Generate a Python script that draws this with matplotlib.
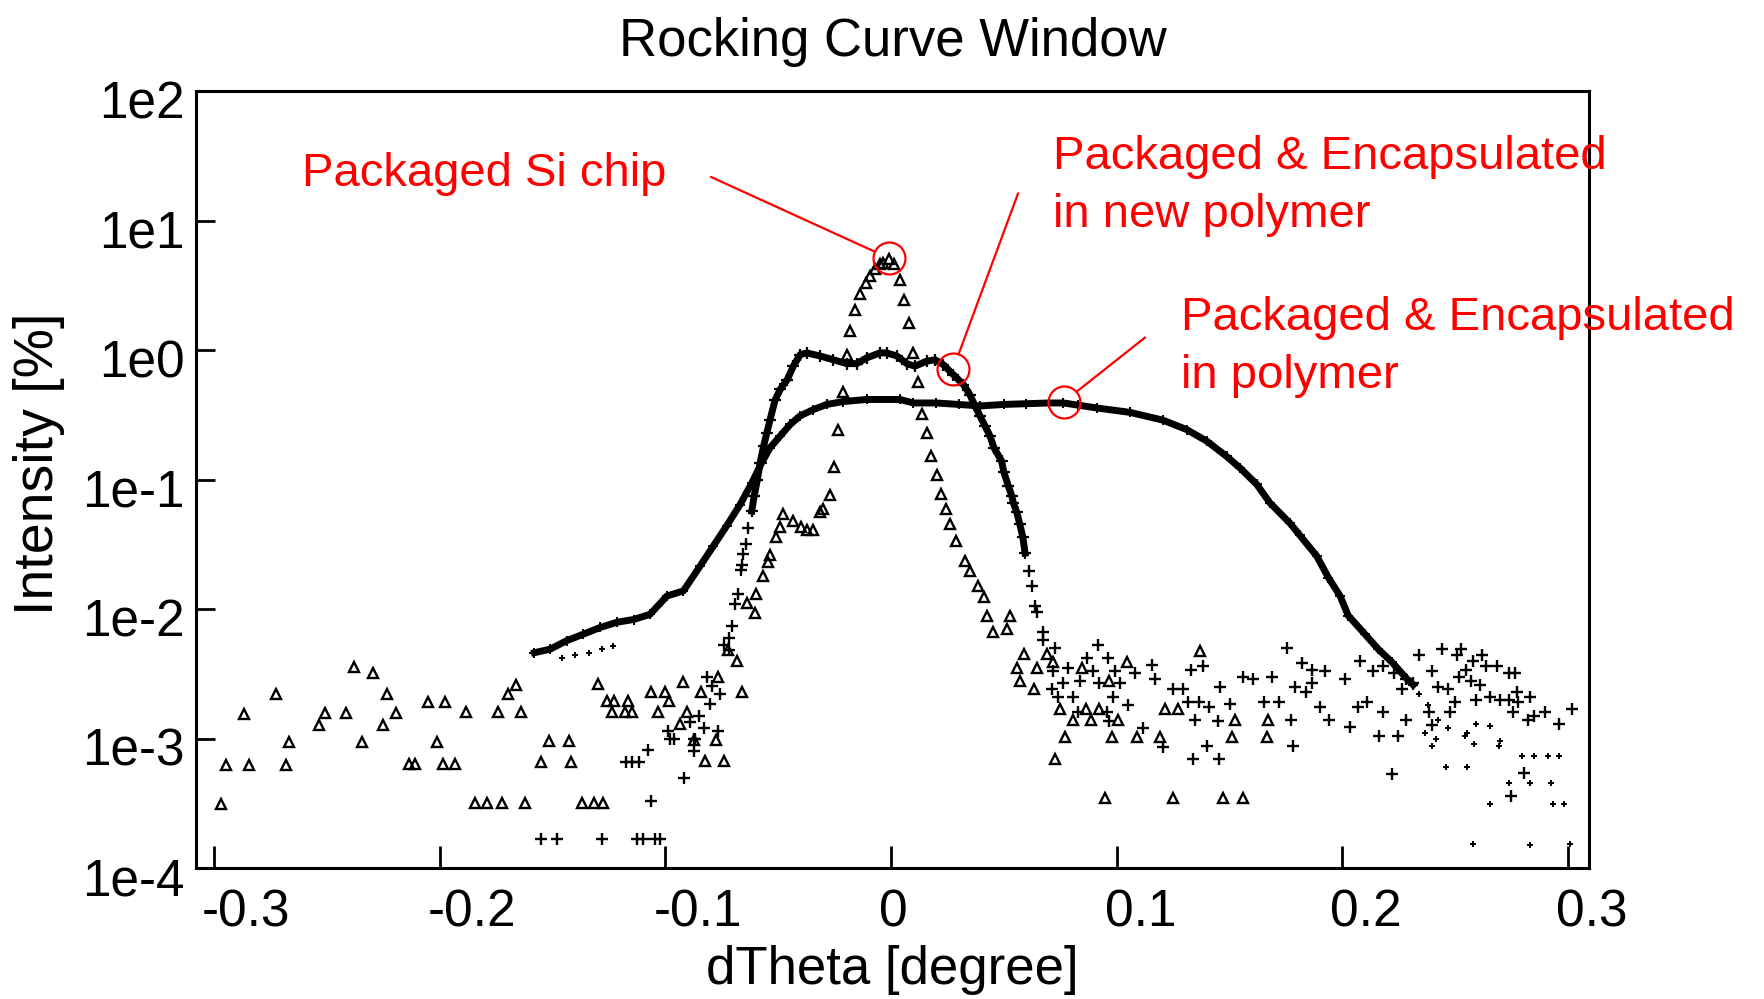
import matplotlib
matplotlib.use('Agg')
import matplotlib.pyplot as plt
from matplotlib.ticker import FixedLocator, FixedFormatter, NullLocator
from matplotlib.transforms import ScaledTranslation

plt.rcParams['font.family'] = ['Liberation Sans', 'DejaVu Sans']
plt.rcParams['axes.unicode_minus'] = False

# --- Packaged Si chip (open triangles) ---
si_x = [-0.297, -0.2948, -0.2867, -0.2846, -0.2726, -0.2683, -0.2667, -0.2534, -0.2509, -0.2414,
        -0.2379, -0.2343, -0.2295, -0.225, -0.2233, -0.2193, -0.2137, -0.2109, -0.2051, -0.2011,
        -0.1987, -0.1976, -0.1932, -0.1884, -0.1844, -0.179, -0.1741, -0.1726, -0.1697, -0.1662,
        -0.164, -0.1623, -0.155, -0.1517, -0.1426, -0.1418, -0.137, -0.1315, -0.1298, -0.1276,
        -0.1259, -0.1236, -0.1227, -0.118, -0.1165, -0.1148, -0.1064, -0.1032, -0.1001, -0.0985,
        -0.0935, -0.0921, -0.0903, -0.0873, -0.0842, -0.0824, -0.0776, -0.0766, -0.0741, -0.0722,
        -0.0683, -0.066, -0.064, -0.0603, -0.060, -0.0568, -0.0545, -0.0536, -0.051, -0.049,
        -0.048, -0.0434, -0.040, -0.0373, -0.0345, -0.0315, -0.030, -0.027, -0.0253, -0.0235,
        -0.0214, -0.0193, -0.018, -0.016, -0.0137, -0.0112, -0.0093, -0.007, -0.005, -0.0035,
        -0.001, 0.0015, 0.004, 0.0058, 0.0081, 0.0099, 0.0121, 0.0136, 0.0158, 0.0177,
        0.0202, 0.022, 0.0244, 0.026, 0.029, 0.0328, 0.035, 0.0387, 0.041, 0.0427,
        0.0453, 0.0513, 0.0527, 0.0557, 0.057, 0.059, 0.0634, 0.0647, 0.069, 0.0718,
        0.0727, 0.0749, 0.077, 0.0806, 0.0845, 0.0864, 0.0885, 0.0923, 0.095, 0.0966,
        0.098, 0.1006, 0.1044, 0.109, 0.119, 0.1214, 0.125, 0.127, 0.137, 0.147,
        0.151, 0.1524, 0.156, 0.1665, 0.167]
si_y = [3.1e-4, 6.2e-4, 1.55e-3, 6.2e-4, 2.2e-3, 6.2e-4, 9.4e-4, 1.27e-3, 1.57e-3, 1.57e-3,
        3.55e-3, 9.4e-4, 3.2e-3, 1.27e-3, 2.2e-3, 1.57e-3, 6.4e-4, 6.4e-4, 1.9e-3, 9.4e-4,
        6.4e-4, 1.9e-3, 6.4e-4, 1.6e-3, 3.2e-4, 3.2e-4, 1.6e-3, 3.2e-4, 2.2e-3, 2.6e-3,
        1.6e-3, 3.2e-4, 6.6e-4, 9.6e-4, 9.6e-4, 6.6e-4, 3.2e-4, 3.2e-4, 2.65e-3, 3.2e-4,
        1.95e-3, 1.6e-3, 1.95e-3, 1.6e-3, 1.95e-3, 1.6e-3, 2.3e-3, 1.6e-3, 2.3e-3, 1.95e-3,
        1.3e-3, 2.75e-3, 1.6e-3, 9.7e-4, 2.3e-3, 6.7e-4, 9.7e-4, 3.0e-3, 6.7e-4, 4.8e-3,
        4.0e-3, 2.3e-3, 0.0112, 0.0094, 0.013, 0.018, 0.023, 0.026, 0.036, 0.043,
        0.054, 0.048, 0.043, 0.041, 0.041, 0.056, 0.059, 0.076, 0.126, 0.243,
        0.47, 0.92, 1.39, 2.05, 2.7, 3.3, 3.7, 4.2, 4.6, 4.7,
        5.0, 4.6, 3.45, 2.45, 1.63, 0.94, 0.57, 0.32, 0.23, 0.151,
        0.108, 0.077, 0.059, 0.045, 0.0335, 0.0234, 0.0197, 0.015, 0.0123, 0.0089,
        0.0066, 0.007, 0.0089, 0.0035, 0.0028, 0.0045, 0.0024, 0.0035, 0.0045, 0.0039,
        6.9e-4, 0.0017, 1.03e-3, 0.0014, 0.0035, 0.0017, 0.0014, 0.0017, 3.5e-4, 0.0028,
        1.03e-3, 0.0014, 0.0039, 1.03e-3, 1.03e-3, 0.0017, 3.5e-4, 0.0017, 0.0047, 3.5e-4,
        1.03e-3, 0.0014, 3.5e-4, 1.03e-3, 0.0014]

# --- Packaged & Encapsulated in new polymer (crosses) ---
# dense part of the curve
new_band_x = [-0.0617, -0.0607, -0.0592, -0.058, -0.0565, -0.055, -0.0536, -0.0514, -0.049, -0.046,
              -0.0433, -0.0403, -0.0373, -0.0315, -0.0255, -0.0196, -0.0152, -0.0108, -0.0049, -0.0019,
              0.0025, 0.007, 0.0106, 0.0158, 0.0195, 0.0232, 0.0276, 0.0321, 0.035, 0.0372,
              0.0394, 0.0416, 0.0439, 0.0456, 0.049, 0.05, 0.052, 0.0535, 0.0542, 0.0557,
              0.0571, 0.0584, 0.0594]
new_band_y = [0.057, 0.074, 0.10, 0.135, 0.18, 0.23, 0.29, 0.41, 0.50, 0.59,
              0.75, 0.92, 0.95, 0.90, 0.84, 0.785, 0.785, 0.87, 0.95, 0.95,
              0.90, 0.785, 0.75, 0.82, 0.84, 0.77, 0.645, 0.54, 0.45, 0.37,
              0.31, 0.26, 0.216, 0.176, 0.139, 0.114, 0.089, 0.075, 0.066, 0.056,
              0.045, 0.036, 0.027]
# sparse points
new_pts_x = [-0.155, -0.148, -0.128, -0.1125, -0.1101, -0.1046, -0.1022, -0.1175, -0.1147, -0.1117,
             -0.1064, -0.1077, -0.099, -0.098, -0.096, -0.0919, -0.089, -0.0873, -0.0873, -0.0868,
             -0.0853, -0.0831, -0.0816, -0.0802, -0.0794, -0.0768, -0.0758, -0.0742, -0.072, -0.0716,
             -0.0705, -0.0691, -0.068, -0.0666, -0.0661, -0.0654, -0.0642, -0.0632,
             0.0613, 0.0624, 0.0638, 0.0649, 0.0675, 0.0675, 0.0727,
             0.0915, 0.0867, 0.0963, 0.0786, 0.0719, 0.0838, 0.0764, 0.0712, 0.0742, 0.0897,
             0.0993, 0.0923, 0.1015, 0.1081, 0.1155, 0.117, 0.1248, 0.1296, 0.1118, 0.1207,
             0.0967, 0.0956, 0.083, 0.0808, 0.0985, 0.1052,
             0.1314, 0.1331, 0.134, 0.1348, 0.1365, 0.1382, 0.1399, 0.1407, 0.145, 0.1453,
             0.1458, 0.1501, 0.156, 0.1602, 0.1653, 0.1687, 0.1721, 0.1755, 0.1772, 0.178,
             0.1789, 0.1823, 0.184, 0.1865, 0.1865, 0.19, 0.1924, 0.1941, 0.201, 0.2035,
             0.207, 0.208, 0.2111, 0.2136, 0.2162, 0.2179, 0.2179, 0.2221, 0.223, 0.2246,
             0.2263, 0.228, 0.228, 0.2314, 0.234, 0.2382, 0.2399, 0.2399, 0.2424, 0.244,
             0.2467, 0.2475, 0.25, 0.2509, 0.2518, 0.2526, 0.2548, 0.2568, 0.2577, 0.2594,
             0.261, 0.2619, 0.2636, 0.2653, 0.2687, 0.27, 0.2738, 0.2738, 0.2755, 0.2764,
             0.2772, 0.278, 0.2823, 0.2831, 0.285, 0.29, 0.2806, 0.2746, 0.296, 0.3018]
new_pts_y = [1.68e-4, 1.68e-4, 1.68e-4, 1.68e-4, 1.68e-4, 1.68e-4, 1.68e-4, 6.6e-4, 6.6e-4, 6.6e-4,
             3.3e-4, 8.2e-4, 1.15e-3, 1.0e-3, 1.0e-3, 5.0e-4, 1.33e-3, 1.0e-3, 8.0e-4, 1.0e-3,
             1.5e-3, 1.2e-3, 3.0e-3, 1.85e-3, 2.55e-3, 1.15e-3, 2.2e-3, 5.3e-3, 4.8e-3, 6.0e-3,
             7.4e-3, 0.0109, 0.013, 0.020, 0.022, 0.0265, 0.032, 0.042,
             0.0197, 0.015, 0.0106, 0.0095, 0.0066, 0.0058, 0.005,
             5.3e-3, 4.2e-3, 4.2e-3, 3.5e-3, 3.3e-3, 2.8e-3, 2.7e-3, 2.4e-3, 2.1e-3, 3.3e-3,
             3.3e-3, 2.7e-3, 2.7e-3, 3.2e-3, 3.7e-3, 2.9e-3, 2.4e-3, 2.4e-3, 1.2e-3, 8.6e-4,
             1.36e-3, 1.6e-3, 1.6e-3, 2.1e-3, 2.1e-3, 1.8e-3,
             1.9e-3, 3.4e-3, 7e-4, 1.4e-3, 1.9e-3, 3.6e-3, 8.8e-4, 1.74e-3, 1.37e-3, 7e-4,
             2.5e-3, 1.85e-3, 3.0e-3, 2.9e-3, 1.9e-3, 3.0e-3, 1.9e-3, 5.0e-3, 1.4e-3, 8.8e-4,
             2.5e-3, 3.8e-3, 2.3e-3, 3.4e-3, 2.7e-3, 1.74e-3, 3.3e-3, 1.4e-3, 2.9e-3, 1.22e-3,
             1.74e-3, 4.0e-3, 1.9e-3, 3.3e-3, 1.05e-3, 3.6e-3, 1.6e-3, 5.3e-4, 3.2e-3, 1.05e-3,
             2.4e-3, 2.9e-3, 1.4e-3, 2.7e-3, 4.4e-3, 1.6e-3, 3.3e-3, 1.27e-3, 2.5e-3, 4.9e-3,
             2.4e-3, 1.6e-3, 1.9e-3, 4.4e-3, 3.0e-3, 4.9e-3, 3.4e-3, 2.8e-3, 4.0e-3, 2.0e-3,
             2.6e-3, 4.4e-3, 3.6e-3, 2.1e-3, 3.6e-3, 2.0e-3, 3.2e-3, 2.0e-3, 1.6e-3, 3.2e-3,
             2.3e-3, 1.9e-3, 1.4e-3, 2.1e-3, 1.5e-3, 1.6e-3, 5.4e-4, 3.6e-4, 1.3e-3, 1.7e-3]

# --- Packaged & Encapsulated in polymer (small marks) ---
poly_band_x = [-0.158, -0.151, -0.1437, -0.1363, -0.1289, -0.1215, -0.1141, -0.1068, -0.0993, -0.092,
               -0.0846, -0.0787, -0.0728, -0.0669, -0.0617, -0.0573, -0.0536, -0.0492, -0.0447, -0.0403,
               -0.0344, -0.0285, -0.0211, -0.0108, 0.004, 0.0099, 0.02, 0.03, 0.0394, 0.05,
               0.06, 0.07, 0.0764, 0.083, 0.0911, 0.1059, 0.1206, 0.131, 0.1399, 0.1487,
               0.1546, 0.162, 0.1679, 0.1768, 0.1812, 0.1886, 0.1938, 0.199, 0.2026, 0.21,
               0.2159, 0.2219, 0.2285, 0.2314]
poly_band_y = [4.6e-3, 4.9e-3, 5.7e-3, 6.4e-3, 7.2e-3, 7.9e-3, 8.3e-3, 9.1e-3, 0.0126, 0.0138,
               0.0215, 0.0307, 0.044, 0.064, 0.094, 0.135, 0.176, 0.216, 0.266, 0.31,
               0.347, 0.38, 0.40, 0.415, 0.415, 0.39, 0.39, 0.38, 0.37, 0.38,
               0.385, 0.39, 0.39, 0.375, 0.357, 0.33, 0.287, 0.243, 0.198, 0.151,
               0.123, 0.092, 0.066, 0.046, 0.037, 0.0257, 0.0175, 0.0126, 0.0089, 0.0064,
               0.0049, 0.0039, 0.0029, 0.0026]
poly_pts_x = [-0.146, -0.14, -0.134, -0.128, -0.123, 0.234, 0.238, 0.2365, 0.2416, 0.2399,
              0.2543, 0.2653, 0.2695, 0.2458, 0.2551, 0.2585, 0.27, 0.2551, 0.2594, 0.2797,
              0.285, 0.291, 0.296, 0.2738, 0.2831, 0.2924, 0.2653, 0.2932, 0.2984, 0.2577,
              0.2831, 0.3009, 0.2424, 0.2467]
poly_pts_y = [4.2e-3, 4.4e-3, 4.6e-3, 4.9e-3, 5.2e-3, 2.2e-3, 1.8e-3, 1.1e-3, 1.0e-3, 8.8e-4,
              1.05e-3, 1.25e-3, 8.8e-4, 6e-4, 6e-4, 9e-4, 9.5e-4, 1.1e-3, 1.3e-3, 7.3e-4,
              7.3e-4, 7.3e-4, 7.3e-4, 4.5e-4, 4.5e-4, 4.5e-4, 3.1e-4, 3.1e-4, 3.1e-4, 1.54e-4,
              1.5e-4, 1.54e-4, 1.4e-3, 1.2e-3]

# ticks
x_ticks = [-0.3, -0.2, -0.1, 0, 0.1, 0.2, 0.3]
x_tick_labels = ['-0.3', '-0.2', '-0.1', '0', '0.1', '0.2', '0.3']
y_ticks = [1e-4, 1e-3, 1e-2, 1e-1, 1e0, 1e1, 1e2]
y_tick_labels = ['1e-4', '1e-3', '1e-2', '1e-1', '1e0', '1e1', '1e2']

# red notes: text, text position, line start, circled point
note_texts = ['Packaged Si chip', 'Packaged & Encapsulated', 'in new polymer',
              'Packaged & Encapsulated', 'in polymer']
note_text_x = [-0.2612, 0.0718, 0.0718, 0.1285, 0.1285]
note_text_y = [18.6, 25.0, 8.9, 1.43, 0.51]
line_start_x = [-0.0798, 0.0563, 0.1126]
line_start_y = [21.7, 16.2, 1.25]
circle_x = [-0.001, 0.0275, 0.0767]
circle_y = [5.13, 0.713, 0.40]

fig = plt.figure(figsize=(17.64, 9.99), dpi=100)
ax = fig.add_axes([0.1111, 0.1311, 0.7897, 0.7778])
ax.set_yscale('log')

ax.plot(si_x, si_y, ls='none', marker='^', ms=7, mfc='none', mec='black', mew=1.7)
ax.plot(new_band_x, new_band_y, color='black', lw=5, marker='+', ms=8, mew=1.6)
ax.plot(new_pts_x, new_pts_y, ls='none', marker='+', ms=8, mew=1.7, color='black')
ax.plot(poly_band_x, poly_band_y, color='black', lw=5, marker='+', ms=7, mew=1.4)
ax.plot(poly_pts_x, poly_pts_y, ls='none', marker='+', ms=5, mew=1.4, color='black')

ax.set_xlim(-0.308, 0.3093)
ax.set_ylim(1e-4, 1e2)

ax.xaxis.set_major_locator(FixedLocator(x_ticks))
ax.xaxis.set_major_formatter(FixedFormatter(x_tick_labels))
ax.yaxis.set_major_locator(FixedLocator(y_ticks))
ax.yaxis.set_major_formatter(FixedFormatter(y_tick_labels))
ax.yaxis.set_minor_locator(NullLocator())
ax.tick_params(axis='x', direction='in', length=16, width=2, labelsize=37, pad=15)
ax.tick_params(axis='y', direction='in', length=14, width=2, labelsize=37, pad=8)
for lab in ax.get_xticklabels():
    lab.set_horizontalalignment('left')
    lab.set_transform(lab.get_transform() + ScaledTranslation(-0.12, 0, fig.dpi_scale_trans))
for lab in ax.get_yticklabels():
    lab.set_transform(lab.get_transform() + ScaledTranslation(0, -0.08, fig.dpi_scale_trans))
for sp in ax.spines.values():
    sp.set_linewidth(2.2)

ax.set_title('Rocking Curve Window', fontsize=38, pad=25)
ax.set_xlabel('dTheta [degree]', fontsize=38)
ax.set_ylabel('Intensity [%]', fontsize=40)
ax.xaxis.set_label_coords(0.5, -0.099)
ax.yaxis.set_label_coords(-0.094, 0.52)

# red annotations
ax.plot(circle_x, circle_y, ls='none', marker='o', ms=23, mfc='none', mec='red', mew=1.6)
for i in range(len(circle_x)):
    ax.annotate('', xy=(circle_x[i], circle_y[i]), xytext=(line_start_x[i], line_start_y[i]),
                arrowprops=dict(arrowstyle='-', color='red', lw=1.6, shrinkA=0, shrinkB=11.5))
for i in range(len(note_texts)):
    ax.text(note_text_x[i], note_text_y[i], note_texts[i], color='red', fontsize=34,
            ha='left', va='baseline')

fig.savefig('out.png', dpi=100)
